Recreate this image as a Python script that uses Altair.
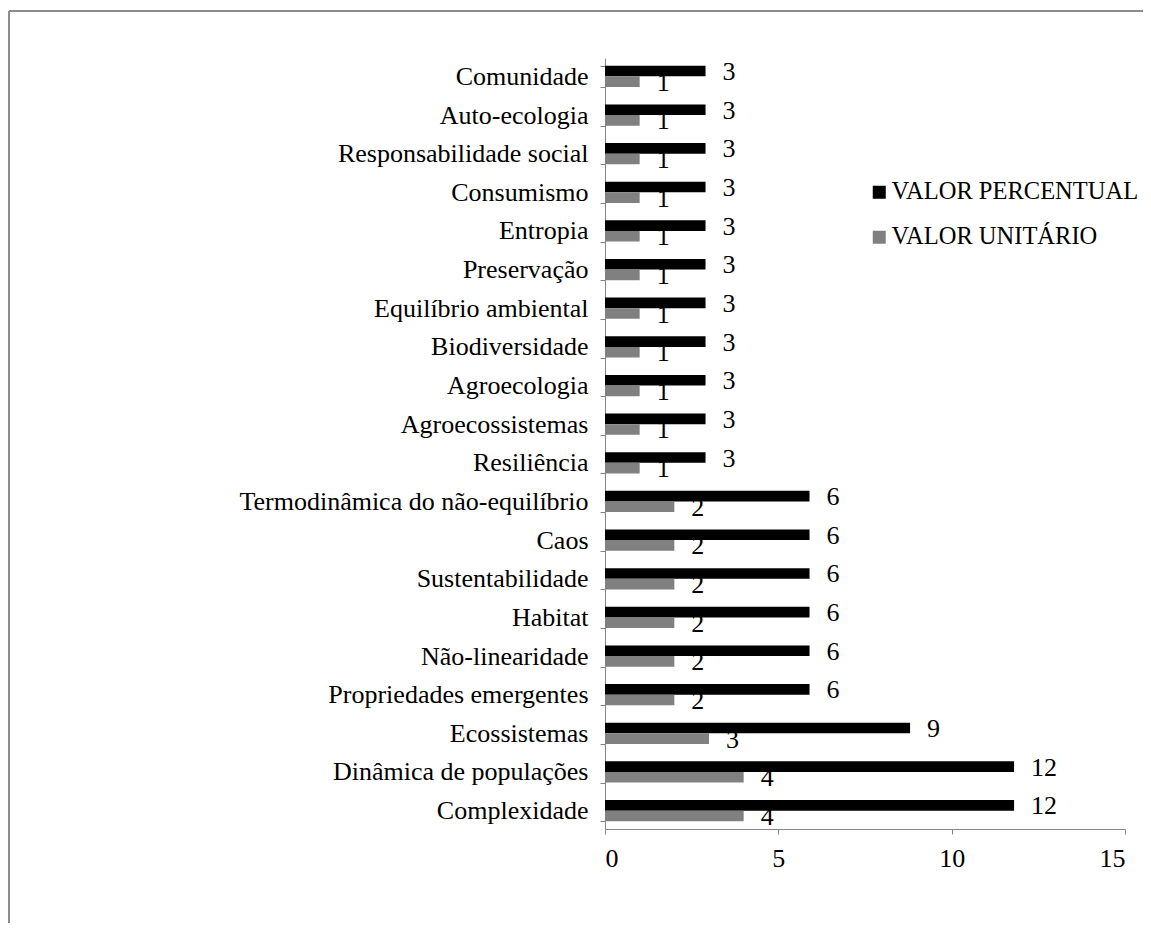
import altair as alt
import pandas as pd

categorias = [
    "Comunidade", "Auto-ecologia", "Responsabilidade social", "Consumismo",
    "Entropia", "Preservação", "Equilíbrio ambiental", "Biodiversidade",
    "Agroecologia", "Agroecossistemas", "Resiliência",
    "Termodinâmica do não-equilíbrio", "Caos", "Sustentabilidade", "Habitat",
    "Não-linearidade", "Propriedades emergentes", "Ecossistemas",
    "Dinâmica de populações", "Complexidade",
]
valor_percentual = [2.9, 2.9, 2.9, 2.9, 2.9, 2.9, 2.9, 2.9, 2.9, 2.9, 2.9,
                    5.9, 5.9, 5.9, 5.9, 5.9, 5.9, 8.8, 11.8, 11.8]
valor_unitario = [1, 1, 1, 1, 1, 1, 1, 1, 1, 1, 1,
                  2, 2, 2, 2, 2, 2, 3, 4, 4]
series = ["VALOR PERCENTUAL", "VALOR UNITÁRIO"]
cores = ["#000000", "#808080"]
x_ticks = [0, 5, 10, 15]

rows = []
for c, p, u in zip(categorias, valor_percentual, valor_unitario):
    rows.append({"categoria": c, "serie": series[0], "valor": p})
    rows.append({"categoria": c, "serie": series[1], "valor": u})
df = pd.DataFrame(rows)

FONT = "Times New Roman, Liberation Serif, DejaVu Serif, serif"

x_scale = alt.Scale(domain=[0, 15], nice=False, zero=True)

y_enc = alt.Y(
    "categoria:N", sort=categorias, title=None,
    scale=alt.Scale(paddingInner=0.45),
    axis=alt.Axis(
        labelFont=FONT, labelFontSize=26, labelColor="#000000",
        labelPadding=12, tickSize=5, tickBand="extent",
        domainColor="#868686", tickColor="#868686", labelLimit=600,
    ),
)
yoff_enc = alt.YOffset("serie:N", sort=series,
                       scale=alt.Scale(paddingInner=0, paddingOuter=0))
x_enc = alt.X(
    "valor:Q", title=None, scale=x_scale,
    axis=alt.Axis(
        values=x_ticks, grid=False, labelFont=FONT, labelFontSize=26,
        labelColor="#000000", labelPadding=11, tickSize=5,
        domainColor="#868686", tickColor="#868686", format="d",
    ),
)

base = alt.Chart(df)

bars = base.mark_bar().encode(
    y=y_enc, yOffset=yoff_enc, x=x_enc,
    color=alt.Color(
        "serie:N",
        scale=alt.Scale(domain=series, range=cores),
        legend=alt.Legend(
            title=None, orient="none", legendX=262, legendY=122,
            symbolType="square", symbolSize=169, symbolStrokeWidth=0,
            labelFont=FONT, labelFontSize=24.5, labelColor="#000000",
            rowPadding=20, labelOffset=0, labelLimit=400,
        ),
    ),
)

texts = base.mark_text(
    align="left", baseline="middle", dx=17, dy=1,
    font=FONT, fontSize=26, color="#000000",
).encode(
    y=alt.Y("categoria:N", sort=categorias),
    yOffset=alt.YOffset("serie:N", sort=series),
    x=alt.X("valor:Q", scale=x_scale),
    text=alt.Text("valor:Q", format=".0f"),
)

one = pd.DataFrame({"a": [0]})
frame_top = alt.Chart(one).mark_rule(stroke="#8c8c8c", strokeWidth=2).encode(
    x=alt.value(-596), x2=alt.value(560), y=alt.value(-47),
)
frame_left = alt.Chart(one).mark_rule(stroke="#8c8c8c", strokeWidth=2).encode(
    x=alt.value(-596), y=alt.value(-47), y2=alt.value(1100),
)

chart = alt.layer(frame_top, frame_left, bars, texts).properties(
    width=520, height=771,
    autosize=alt.AutoSizeParams(type="none"),
    padding={"left": 597, "top": 50, "right": 18, "bottom": 94},
    background="#ffffff",
).configure_view(stroke=None)

chart.save("out.html", embed_options={"renderer": "svg", "actions": False})
